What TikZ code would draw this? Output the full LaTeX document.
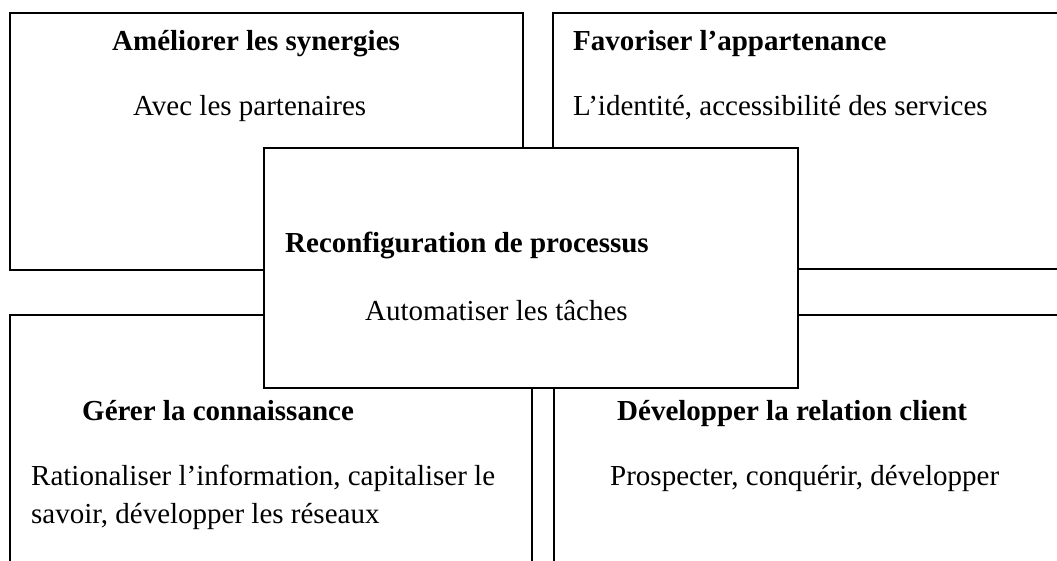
\documentclass[tikz,border=0pt]{standalone}
\usepackage{fontspec}
\setmainfont{Liberation Serif}
\begin{document}
\begin{tikzpicture}[x=1pt,y=-1pt,
  panel/.style={draw=black,line width=1.6pt,fill=white,rectangle,inner sep=0pt,anchor=north west},
  head/.style={anchor=base west,inner sep=0pt,font=\fontsize{29}{35}\selectfont\bfseries},
  body/.style={anchor=base west,inner sep=0pt,font=\fontsize{29}{35}\selectfont}]
\useasboundingbox (0,0) rectangle (1057,560);
\clip (0,0) rectangle (1057,560);
% four quadrant panels (the right and bottom ones run past the page edge)
\node[panel,minimum width=513pt,minimum height=257pt] (tl) at (9,12) {};
\node[panel,minimum width=540pt,minimum height=256pt] (tr) at (552,12) {};
\node[panel,minimum width=522pt,minimum height=270pt] (bl) at (9,314) {};
\node[panel,minimum width=540pt,minimum height=270pt] (br) at (553,314) {};
% central panel on top
\node[panel,minimum width=534pt,minimum height=240pt] (ctr) at (263,147) {};
% texts
\node[head] (tlh) at (112,50) {Améliorer les synergies};
\node[body] (tlb) at (133,115) {Avec les partenaires};
\node[head] (trh) at (573,50) {Favoriser l’appartenance};
\node[body] (trb) at (573,115) {L’identité, accessibilité des services};
\node[head] (ch) at (285,252) {Reconfiguration de processus};
\node[body] (cb) at (365,320) {Automatiser les tâches};
\node[head] (blh) at (82,420) {Gérer la connaissance};
\node[body] (blb1) at (31,485) {Rationaliser l’information, capitaliser le};
\node[body] (blb2) at (31,523) {savoir, développer les réseaux};
\node[head] (brh) at (617,420) {Développer la relation client};
\node[body] (brb) at (610,485) {Prospecter, conquérir, développer};
\end{tikzpicture}
\end{document}
